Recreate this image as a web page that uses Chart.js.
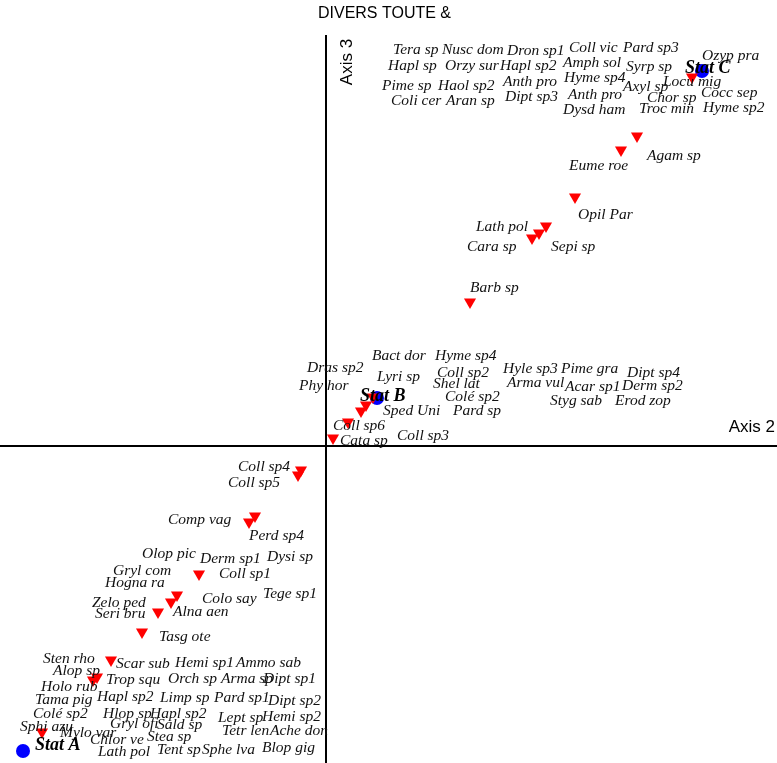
<!DOCTYPE html>
<html>
<head>
<meta charset="utf-8">
<title>DIVERS TOUTE &amp;</title>
<script src="https://cdn.jsdelivr.net/npm/chart.js@4/dist/chart.umd.min.js"></script>
<style>
  html, body { margin: 0; padding: 0; background: #ffffff; }
  #wrap { position: relative; width: 777px; height: 763px; }
</style>
</head>
<body>
<div id="wrap"><canvas id="plot"></canvas></div>
<script>
// Ordination biplot: axis 2 (horizontal) against axis 3 (vertical).

const chartTitle = 'DIVERS TOUTE &';
const axisNames = ['Axis 2', 'Axis 3'];

// Station scores
const stationNames = ['Stat A', 'Stat B', 'Stat C'];
const stationX = [-3.03, 0.51, 3.76];
const stationY = [-3.05, 0.48, 3.75];
// where each station name is written
const stationLabelX = [-2.91, 0.34, 3.59];
const stationLabelY = [-2.99, 0.50, 3.78];

// Species scores (plotted symbols)
const speciesPtX = [3.66, 3.11, 2.95, 2.49, 2.20, 2.13, 2.06, 1.44, 0.47, 0.40, 0.35, 0.22, 0.07,
  -0.25, -0.28, -0.71, -0.77, -1.27, -1.49, -1.55, -1.68, -1.84, -2.15, -2.29, -2.33, -2.84];
const speciesPtY = [3.69, 3.10, 2.96, 2.49, 2.20, 2.13, 2.08, 1.44, 0.49, 0.41, 0.35, 0.24, 0.08,
  -0.24, -0.29, -0.70, -0.76, -1.28, -1.49, -1.56, -1.66, -1.86, -2.14, -2.31, -2.34, -2.86];

// Species names and the positions they are written at
const speciesNames = [
  'Tera sp', 'Nusc dom', 'Dron sp1', 'Coll vic', 'Pard sp3', 'Ozyp pra',
  'Hapl sp', 'Orzy sur', 'Hapl sp2', 'Amph sol', 'Syrp sp',
  'Hyme sp4', 'Locu mig', 'Pime sp', 'Haol sp2', 'Anth pro', 'Axyl sp', 'Cocc sep',
  'Coli cer', 'Aran sp', 'Dipt sp3', 'Anth pro', 'Chor sp',
  'Dysd ham', 'Troc min', 'Hyme sp2',
  'Agam sp', 'Eume roe', 'Opil Par', 'Lath pol', 'Cara sp', 'Sepi sp', 'Barb sp',
  'Bact dor', 'Hyme sp4', 'Dras sp2', 'Lyri sp', 'Coll sp2', 'Hyle sp3', 'Pime gra', 'Dipt sp4',
  'Phy hor', 'Shel lat', 'Arma vul', 'Acar sp1', 'Derm sp2',
  'Colé sp2', 'Styg sab', 'Erod zop', 'Sped Uni', 'Pard sp', 'Coll sp6', 'Coll sp3', 'Cata sp',
  'Coll sp4', 'Coll sp5', 'Comp vag', 'Perd sp4', 'Olop pic', 'Derm sp1', 'Dysi sp',
  'Gryl com', 'Coll sp1', 'Hogna ra', 'Tege sp1', 'Colo say', 'Zelo ped', 'Alna aen', 'Seri bru', 'Tasg ote',
  'Sten rho', 'Scar sub', 'Hemi sp1', 'Ammo sab', 'Alop sp', 'Trop squ', 'Orch sp', 'Arma sp', 'Dipt sp1',
  'Holo rub', 'Hapl sp2', 'Limp sp', 'Pard sp1', 'Dipt sp2', 'Tama pig',
  'Colé sp2', 'Hlop sp', 'Hapl sp2', 'Lept sp', 'Hemi sp2',
  'Gryl ofi', 'Sald sp', 'Sphi azu', 'Tetr len', 'Ache don', 'Mylo var', 'Stea sp', 'Chlor ve',
  'Tent sp', 'Sphe lva', 'Blop gig', 'Lath pol'
];
const speciesX = [
  0.67, 1.16, 1.81, 2.43, 2.97, 3.76,
  0.62, 1.19, 1.74, 2.37, 3.00,
  2.38, 3.37, 0.56, 1.12, 1.77, 2.97, 3.75,
  0.65, 1.20, 1.79, 2.42, 3.21,
  2.37, 3.13, 3.77,
  3.21, 2.43, 2.52, 1.50, 1.41, 2.25, 1.44,
  0.46, 1.09, -0.19, 0.51, 1.11, 1.77, 2.35, 3.01,
  -0.27, 1.07, 1.81, 2.39, 2.96,
  1.19, 2.24, 2.89, 0.57, 1.27, 0.07, 0.71, 0.14,
  -0.88, -0.98, -1.58, -0.77, -1.84, -1.26, -0.59,
  -2.13, -1.07, -2.21, -0.63, -1.24, -2.34, -1.53, -2.31, -1.67,
  -2.83, -2.10, -1.51, -0.90, -2.73, -2.20, -1.58, -1.05, -0.63,
  -2.85, -2.29, -1.66, -1.12, -0.58, -2.91,
  -2.93, -2.23, -1.76, -1.08, -0.64,
  -2.16, -1.69, -3.06, -1.04, -0.56, -2.66, -1.79, -2.36,
  -1.69, -1.24, -0.64, -2.28
];
const speciesY = [
  3.96, 3.96, 3.95, 3.98, 3.98, 3.90,
  3.80, 3.80, 3.80, 3.83, 3.79,
  3.68, 3.64, 3.60, 3.60, 3.64, 3.59, 3.53,
  3.45, 3.45, 3.49, 3.51, 3.48,
  3.36, 3.37, 3.38,
  2.90, 2.80, 2.31, 2.19, 1.99, 1.99, 1.58,
  0.90, 0.90, 0.78, 0.69, 0.73, 0.77, 0.77, 0.73,
  0.60, 0.62, 0.63, 0.59, 0.60,
  0.49, 0.45, 0.45, 0.35, 0.35, 0.20, 0.10, 0.05,
  -0.21, -0.37, -0.74, -0.90, -1.08, -1.13, -1.11,
  -1.25, -1.28, -1.37, -1.48, -1.53, -1.57, -1.66, -1.68, -1.91,
  -2.13, -2.18, -2.17, -2.17, -2.25, -2.34, -2.33, -2.33, -2.33,
  -2.41, -2.51, -2.52, -2.52, -2.55, -2.54,
  -2.68, -2.68, -2.68, -2.72, -2.71,
  -2.78, -2.79, -2.81, -2.85, -2.85, -2.87, -2.91, -2.94,
  -3.04, -3.04, -3.02, -3.06
];

const toPoints = (xs, ys) => xs.map((x, i) => ({ x: x, y: ys[i] }));

// Axes through the origin, axis names, title and all text labels
const biplotDecor = {
  id: 'biplotDecor',
  beforeDatasetsDraw(chart) {
    const { ctx, chartArea, scales } = chart;
    const x0 = scales.x.getPixelForValue(0);
    const y0 = scales.y.getPixelForValue(0);
    ctx.save();
    ctx.strokeStyle = '#000000';
    ctx.lineWidth = 2;
    ctx.beginPath();
    ctx.moveTo(chartArea.left, y0);
    ctx.lineTo(chartArea.right, y0);
    ctx.moveTo(x0, chartArea.top + 35);
    ctx.lineTo(x0, chartArea.bottom);
    ctx.stroke();

    ctx.fillStyle = '#000000';
    ctx.font = "16px 'Liberation Sans', Arial, sans-serif";
    ctx.textAlign = 'center';
    ctx.textBaseline = 'middle';
    ctx.fillText(chartTitle, (chartArea.left + chartArea.right) / 2 - 4, chartArea.top + 14);

    ctx.font = "17px 'Liberation Sans', Arial, sans-serif";
    ctx.textAlign = 'right';
    ctx.fillText(axisNames[0], chartArea.right - 2, y0 - 19);

    ctx.save();
    ctx.translate(x0 + 21, chartArea.top + 62);
    ctx.rotate(-Math.PI / 2);
    ctx.textAlign = 'center';
    ctx.fillText(axisNames[1], 0, 0);
    ctx.restore();
    ctx.restore();
  },
  afterDatasetsDraw(chart) {
    const { ctx } = chart;
    ctx.save();
    ctx.fillStyle = '#111111';
    ctx.textAlign = 'left';
    ctx.textBaseline = 'middle';
    ctx.font = "italic 15.5px 'Liberation Serif', 'Times New Roman', serif";
    chart.getDatasetMeta(2).data.forEach((pt, i) => {
      ctx.fillText(speciesNames[i], pt.x, pt.y);
    });
    ctx.fillStyle = '#000000';
    ctx.font = "italic bold 18px 'Liberation Serif', 'Times New Roman', serif";
    chart.getDatasetMeta(3).data.forEach((pt, i) => {
      ctx.fillText(stationNames[i], pt.x, pt.y);
    });
    ctx.restore();
  }
};

new Chart(document.getElementById('plot'), {
  type: 'scatter',
  data: {
    datasets: [
      {
        label: 'species',
        data: toPoints(speciesPtX, speciesPtY),
        pointStyle: 'triangle',
        rotation: 180,
        pointRadius: 7,
        backgroundColor: '#ff0000',
        borderColor: '#ff0000',
        borderWidth: 0
      },
      {
        label: 'stations',
        data: toPoints(stationX, stationY),
        pointStyle: 'circle',
        pointRadius: 7,
        backgroundColor: '#0000ff',
        borderColor: '#0000ff',
        borderWidth: 0
      },
      {
        label: 'species names',
        data: toPoints(speciesX, speciesY),
        pointRadius: 0
      },
      {
        label: 'station names',
        data: toPoints(stationLabelX, stationLabelY),
        pointRadius: 0
      }
    ]
  },
  options: {
    responsive: true,
    maintainAspectRatio: false,
    animation: false,
    events: [],
    layout: { padding: 0, autoPadding: false },
    scales: {
      x: { type: 'linear', min: -3.26, max: 4.51, display: false },
      y: { type: 'linear', min: -3.17, max: 4.46, display: false }
    },
    plugins: {
      legend: { display: false },
      tooltip: { enabled: false },
      title: { display: false }
    }
  },
  plugins: [biplotDecor]
});
</script>
</body>
</html>
